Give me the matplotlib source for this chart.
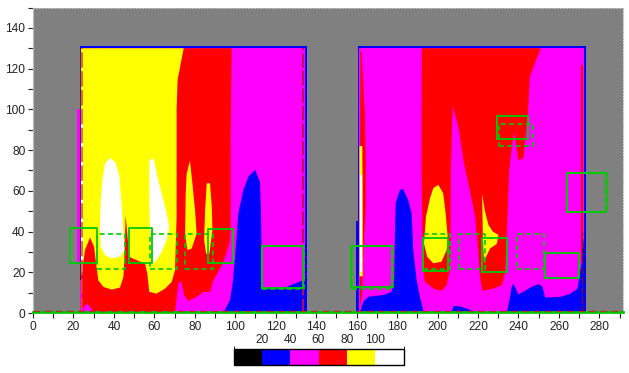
import numpy as np
import matplotlib
matplotlib.use("Agg")
import matplotlib.pyplot as plt
from matplotlib.colors import ListedColormap, BoundaryNorm

plt.rcParams['font.family'] = ['Liberation Sans', 'DejaVu Sans']
plt.rcParams['font.size'] = 8.6

GREEN = '#00cc00'
level_colors = ['#000000', '#0000ff', '#ff00ff', '#ff0000', '#ffff00', '#ffffff']
level_bounds = [0, 20, 40, 60, 80, 100, 120]
level_ticks = [20, 40, 60, 80, 100]

# room outlines (x0, x1, y1)
room_a = (23, 135.6, 131)
room_b = (160.6, 273.4, 131)

# contour outlines: (x, y)
a_red = [(23.6, 130), (98.2, 130), (97.7, 80), (97.7, 42.4), (97.1, 34.2), (95, 27.6), (92.5, 21.8), (89.2, 16.1),
         (87.5, 10.4), (84.2, 10.4), (80.9, 7.9), (76.8, 5.9), (74.7, 8.7), (73.5, 15.3), (72.7, 15.3), (71.9, 14.5),
         (70.2, 0), (23.6, 0)]
a_pink_spot = [(23.6, 0), (24, 1.3), (25.5, 3.5), (26.9, 4.6), (29.5, 1.3), (30.7, 0)]
a_pink_edge = [(23.2, 0), (24, 0), (24, 16), (23.2, 16)]
a_yellow = [(23.7, 130), (74.5, 130), (71.5, 114.6), (71, 100), (71, 47.3), (70.2, 21), (68.6, 15.3), (65.3, 12),
            (61.1, 9.5), (57.5, 10.4), (56.5, 19.4), (55.4, 24.3), (50.4, 26.3), (47.6, 27.6), (46.6, 39), (45.8, 48.1),
            (45.2, 27.6), (44.7, 17.7), (43, 12.5), (38.9, 11.5), (34.8, 12.8), (32.3, 16.1), (31.2, 24.3), (30.2, 32.5),
            (28.2, 37.1), (25.7, 30.9), (24.6, 22.7), (23.7, 18)]
a_yellow_spike1 = [(77.6, 74.7), (76, 68.6), (75.5, 58.8), (75.2, 39), (76.3, 30.9), (78.5, 31.7), (80.9, 39), (80.1, 50.6),
                   (78.8, 63.7)]
a_yellow_spike2 = [(85.9, 63.7), (87.5, 63.7), (88.4, 52.2), (88.7, 40.7), (87.2, 29.2), (85.6, 29.2), (84.6, 35.8), (85.1, 50.6)]
a_white1 = [(38.4, 76.2), (35.6, 73.5), (34.3, 65.3), (33.5, 55.5), (33.1, 42.4), (33.5, 32.5), (35.6, 28.4), (38.9, 26.8),
            (43, 27.6), (45.2, 30.9), (44.7, 39), (43.8, 53.8), (42.7, 67), (41, 73.5)]
a_white2 = [(57.5, 75.2), (59.8, 75.7), (61.5, 67), (63.6, 58.8), (66.1, 48.9), (67.4, 42.4), (66.1, 35.8), (62.8, 28.4),
            (59.5, 24.3), (58.3, 25.1), (57.9, 39), (57.5, 55.5)]
a_blue = [(94.1, 0), (97.4, 6.3), (98.7, 14.5), (99.9, 27.6), (101.5, 48.9), (104, 60.4), (106.5, 67), (109.8, 70.3),
          (112.2, 64.5), (112.7, 50.6), (113, 30.9), (113.6, 12), (118.8, 12.5), (125.4, 12.8), (129.6, 14.5), (132.9, 15.8),
          (135, 15.3), (135, 0)]
a_strip_outer = [(21.9, 25), (23.1, 25), (23.1, 100), (21.9, 100)]
a_strip_white = [(23.7, 100), (24.9, 100), (24.9, 20), (23.7, 20)]

b_red = [(192.2, 130), (251, 130), (245.6, 116), (244.8, 99.8), (242.4, 76), (240, 74.9), (237.8, 89), (237.2, 85),
         (235.4, 70.3), (234.2, 37.5), (233.4, 19.4), (231.8, 13.7), (227.6, 12), (222.2, 10.9), (221, 17.8), (220.2, 29.3),
         (218.6, 47.3), (216.1, 59.6), (212.8, 75), (210.3, 91.6), (207.5, 101.5), (206.6, 70.3), (206.5, 39), (206.1, 21),
         (204.5, 13.7), (202, 10.9), (197.9, 12), (193.8, 15.3), (193, 21), (192.6, 39), (192.1, 70.3)]
b_yellow1 = [(200.4, 62.9), (202.8, 58.8), (204, 49), (205, 37.5), (204.5, 30.9), (202, 25.2), (197.9, 24.4), (194.9, 27.6),
             (193.3, 34.2), (194.3, 47.3), (196.3, 56.4), (197.9, 61.3)]
b_yellow2 = [(222, 58.5), (223.5, 49.8), (225.2, 43.2), (227.3, 40), (230.1, 38.3), (229.3, 33.9), (226, 31.7), (224, 27.6),
             (223, 24.4), (222.4, 37.5), (222.2, 50.6)]
b_blue1 = [(161.6, 0), (163.3, 5.5), (165.8, 8), (173.2, 8.8), (177.3, 10.4), (178.6, 16.1), (178.9, 37.5), (179.3, 53.9),
           (181.4, 60.5), (183, 60.8), (185.5, 55.5), (187.2, 49), (188, 30.9), (189.7, 16.1), (191.3, 8), (193.3, 0)]
b_blue2 = [(207, 0), (207.8, 3.4), (210.3, 3.4), (214.4, 2.2), (219.3, 0)]
b_blue3 = [(234.2, 0), (235.5, 6.3), (236.7, 12.9), (237.5, 14.5), (240, 9.1), (243.3, 10.9), (246.6, 12.9), (249.9, 14.2),
           (251.9, 12.9), (253.2, 7.6), (260.6, 7.9), (265.5, 9.3), (269.2, 12), (271.3, 25.2), (272.5, 37.5), (273, 0)]
b_strip_red = [(161.9, 128.5), (162.5, 128.5), (164, 100), (164.6, 70), (164.4, 50), (163.3, 30), (162.8, 9.6), (161.6, 1.3)]
b_strip_yellow = [(161.4, 82), (162.8, 82), (163, 60), (163, 18), (161.4, 18)]
b_strip_white = [(161.9, 68), (162.7, 68), (162.7, 20), (161.9, 20)]
b_strip_right = [(270.9, 122), (272, 122), (272, 26), (271, 26)]
b_strip_outer = [(159.7, 45), (160.7, 45), (160.7, 0), (159.7, 0)]

# outlines of the boxes: (x0, x1, y0, y1)
solid_boxes = [(18.5, 31.5, 24.6, 41.5), (47.6, 58.7, 24.6, 41.5), (86.7, 99, 24.6, 41), (113.4, 133.3, 12.5, 33),
               (157.2, 177.7, 12.8, 33), (193, 205.3, 20.5, 37), (222.2, 234.3, 19.9, 37), (253.2, 270, 17, 29.7),
               (229.3, 244.6, 85.4, 96.5), (263.8, 283.3, 49.5, 68.7)]
dashed_boxes = [(31.8, 45.4, 21.4, 39), (57.8, 71, 21.4, 39), (75.2, 89, 21.4, 39), (113.4, 134, 12, 33),
                (157.5, 178, 12, 33), (193, 206, 21.4, 39), (210.6, 223.7, 21.4, 39), (239.5, 252.7, 21.4, 39),
                (230.6, 247, 81.8, 93), (264, 283.6, 49.5, 68.7)]

x_ticks = np.arange(0, 290, 20)
y_ticks = np.arange(0, 150, 20)

fig = plt.figure(figsize=(6.29, 3.73), dpi=100)
ax = fig.add_axes([33 / 629, 1 - 313 / 373, 590 / 629, 305.5 / 373])
ax.set_facecolor('#808080')
ax.set_xlim(0, 291.7)
ax.set_ylim(0, 150)


def poly(points, color, z):
    xs, ys = zip(*points)
    ax.fill(xs, ys, color=color, lw=0, zorder=z)


for room in (room_a, room_b):
    ax.fill([room[0], room[1], room[1], room[0]], [0, 0, room[2], room[2]], color='#0000ff', lw=0, zorder=1)
    ax.fill([room[0] + 0.6, room[1] - 0.9, room[1] - 0.9, room[0] + 0.6], [0, 0, 130, 130], color='#ff00ff', lw=0, zorder=1.5)

poly(a_red, '#ff0000', 2)
poly(a_pink_spot, '#ff00ff', 3)
poly(a_pink_edge, '#ff00ff', 3)
poly(a_yellow, '#ffff00', 3)
poly(a_yellow_spike1, '#ffff00', 3)
poly(a_yellow_spike2, '#ffff00', 3)
poly(a_white1, '#ffffff', 4)
poly(a_white2, '#ffffff', 4)
poly(a_blue, '#0000ff', 3)
poly(a_strip_outer, '#ff00ff', 3)
poly(a_strip_white, '#ffffff', 4)

poly(b_red, '#ff0000', 2)
poly(b_yellow1, '#ffff00', 3)
poly(b_yellow2, '#ffff00', 3)
poly(b_blue1, '#0000ff', 3)
poly(b_blue2, '#0000ff', 3)
poly(b_blue3, '#0000ff', 3)
poly(b_strip_red, '#ff0000', 2)
poly(b_strip_yellow, '#ffff00', 3)
poly(b_strip_white, '#ffffff', 4)
poly(b_strip_right, '#ff0000', 2)
poly(b_strip_outer, '#0000ff', 2)

# dashed room lines
ax.plot([24.3, 24.3], [0, 130], color='#d05000', alpha=0.8, lw=1.4, ls=(0, (8, 1.7)), zorder=5)
ax.plot([133.7, 133.7], [0, 130], color='#c01050', lw=1.3, ls=(0, (8, 1.7)), zorder=5)
ax.plot([271.4, 271.4], [0, 40], color='#801010', lw=1.0, ls=(0, (5, 2)), zorder=5)

for x0, x1, y0, y1 in solid_boxes:
    ax.plot([x0, x1, x1, x0, x0], [y0, y0, y1, y1, y0], color=GREEN, lw=1.3, zorder=6)
for x0, x1, y0, y1 in dashed_boxes:
    ax.plot([x0, x1, x1, x0, x0], [y0, y0, y1, y1, y0], color=GREEN, lw=1.2, ls=(0, (3, 2)), zorder=6)

ax.plot([0, 291.7], [0.3, 0.3], color=GREEN, lw=2, zorder=7, clip_on=False)
ax.plot([0, 291.7], [1.0, 1.0], color='#a04020', lw=1, ls=(0, (5, 3)), zorder=7)

ax.set_xticks(x_ticks)
ax.set_yticks(y_ticks)
ax.set_xticks(np.arange(0, 292, 10), minor=True)
ax.set_yticks(np.arange(0, 151, 10), minor=True)
ax.tick_params(which='both', direction='out', length=3.5, width=0.8, pad=2, color='#222222', labelcolor='#222222')
ax.spines['bottom'].set_visible(False)
ax.spines['left'].set_color('#bbbbbb')
ax.spines['top'].set_color('#bbbbbb')
ax.spines['top'].set_linestyle(':')
ax.spines['right'].set_color('#bbbbbb')
ax.spines['right'].set_linestyle(':')

# colour key
cax = fig.add_axes([233.5 / 629, 1 - 364.5 / 373, 170 / 629, 16 / 373])
cmap = ListedColormap(level_colors)
norm = BoundaryNorm(level_bounds, cmap.N)
cb = fig.colorbar(plt.cm.ScalarMappable(norm=norm, cmap=cmap), cax=cax, orientation='horizontal', ticks=level_ticks)
cb.ax.xaxis.set_ticks_position('top')
cb.ax.tick_params(length=0, pad=2, labelcolor='#222222')
cb.outline.set_edgecolor('black')
cb.outline.set_linewidth(1)

fig.savefig('out.png', dpi=100)
